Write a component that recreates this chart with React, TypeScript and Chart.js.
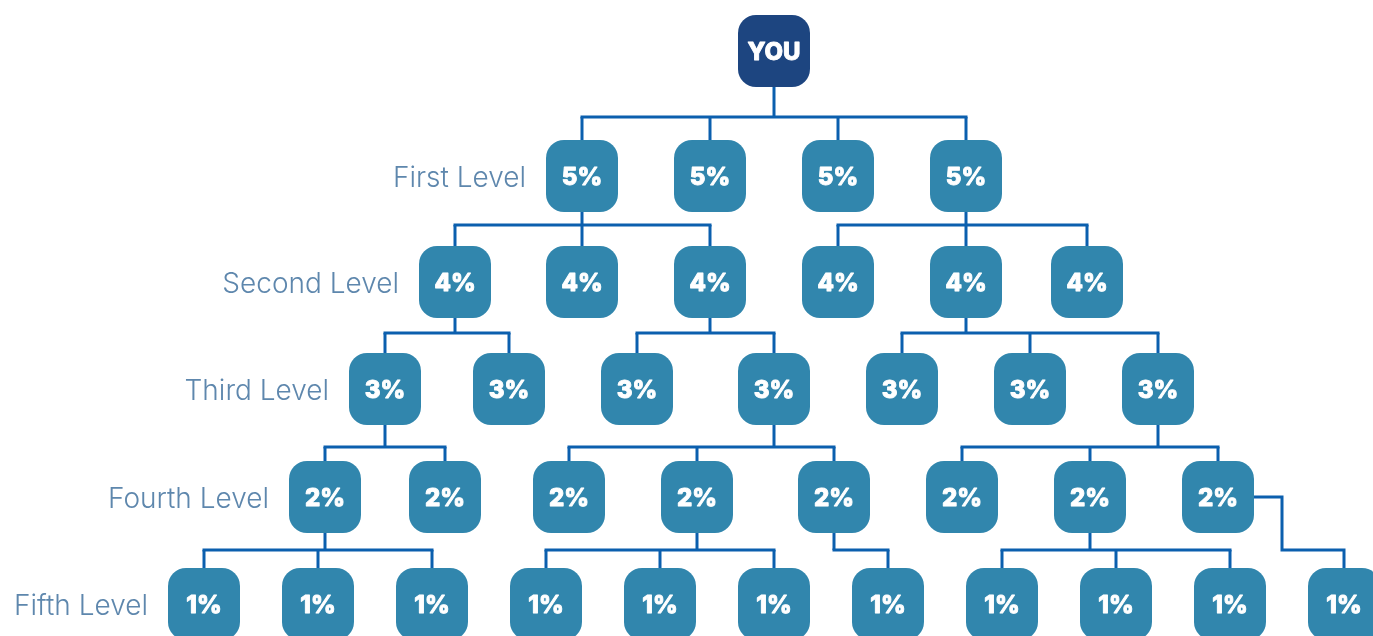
import React, { useEffect, useRef } from "react";
import { Chart, registerables } from "chart.js";

Chart.register(...registerables);

// ---- data ----
const rootLabel = "YOU";
const levelNames = ["First Level", "Second Level", "Third Level", "Fourth Level", "Fifth Level"];
const levelRates = ["5%", "4%", "3%", "2%", "1%"];

// tree layout (x in scale units, one array per level, root first)
const rootX = [774];
const level1X = [582, 710, 838, 966];
const level2X = [455, 582, 710, 838, 966, 1087];
const level3X = [385, 509, 637, 774, 902, 1030, 1158];
const level4X = [325, 445, 569, 697, 834, 962, 1090, 1218];
const level5X = [204, 318, 432, 546, 660, 774, 888, 1002, 1116, 1230, 1344];

// row of each level and of the connector bus below it (y in scale units)
const levelRows = [51, 176, 282, 389, 497, 604];
const busRows = [117, 225, 333, 447, 550];

// parent index (in previous level) for each node
const level1Parents = [0, 0, 0, 0];
const level2Parents = [0, 0, 0, 3, 3, 3];
const level3Parents = [0, 0, 2, 2, 4, 4, 4];
const level4Parents = [0, 0, 3, 3, 3, 6, 6, 6];
const level5Parents = [0, 0, 0, 3, 3, 3, 4, 6, 6, 6, 7];

// links that leave the parent from its right side: [level, index]
const sideLinks = [[5, 10]];

const levelXs = [rootX, level1X, level2X, level3X, level4X, level5X];
const levelParents = [[], level1Parents, level2Parents, level3Parents, level4Parents, level5Parents];

// ---- styles ----
const BOX = 72;
const RADIUS = 18;
const ROOT_COLOR = "#1d4580";
const NODE_COLOR = "#3186ad";
const LINE_COLOR = "#0b5fae";
const LABEL_COLOR = "#5e87ad";
const FONT = "Inter, 'Open Sans', sans-serif";

type Node = { x: number; y: number; level: number; idx: number; text: string };

const nodes: Node[] = [];
levelXs.forEach((xs, level) => {
  xs.forEach((x, idx) => {
    nodes.push({ x, y: levelRows[level], level, idx, text: level === 0 ? rootLabel : levelRates[level - 1] });
  });
});

export default function App() {
  const ref = useRef<HTMLCanvasElement | null>(null);

  useEffect(() => {
    if (!ref.current) return;
    const flatIndex = (level: number, idx: number) => nodes.findIndex((n) => n.level === level && n.idx === idx);

    const treePlugin = {
      id: "tree",
      beforeDatasetsDraw(chart: any) {
        const meta = chart.getDatasetMeta(0);
        const yScale = chart.scales.y;
        const ctx = chart.ctx as CanvasRenderingContext2D;
        const half = BOX / 2;
        ctx.save();
        ctx.strokeStyle = LINE_COLOR;
        ctx.lineWidth = 3;
        ctx.lineCap = "butt";
        ctx.lineJoin = "miter";
        for (let level = 1; level < levelXs.length; level++) {
          const parents = levelParents[level];
          const busY = yScale.getPixelForValue(busRows[level - 1]);
          const groups = new Map<number, number[]>();
          parents.forEach((p, i) => {
            const side = sideLinks.some(([l, k]) => l === level && k === i);
            const pEl = meta.data[flatIndex(level - 1, p)];
            const cEl = meta.data[flatIndex(level, i)];
            if (side) {
              const turnX = pEl.x + half + 28;
              ctx.beginPath();
              ctx.moveTo(pEl.x + half, pEl.y);
              ctx.lineTo(turnX, pEl.y);
              ctx.lineTo(turnX, busY);
              ctx.lineTo(cEl.x, busY);
              ctx.lineTo(cEl.x, cEl.y - half);
              ctx.stroke();
              return;
            }
            if (!groups.has(p)) groups.set(p, []);
            groups.get(p)!.push(i);
          });
          groups.forEach((kids, p) => {
            const pEl = meta.data[flatIndex(level - 1, p)];
            const kEls = kids.map((k) => meta.data[flatIndex(level, k)]);
            const xs = [pEl.x, ...kEls.map((e: any) => e.x)];
            ctx.beginPath();
            ctx.moveTo(pEl.x, pEl.y + half);
            ctx.lineTo(pEl.x, busY);
            ctx.stroke();
            ctx.beginPath();
            ctx.moveTo(Math.min(...xs) - 1.5, busY);
            ctx.lineTo(Math.max(...xs) + 1.5, busY);
            ctx.stroke();
            kEls.forEach((e: any) => {
              ctx.beginPath();
              ctx.moveTo(e.x, busY);
              ctx.lineTo(e.x, e.y - half);
              ctx.stroke();
            });
          });
        }
        ctx.restore();
      },
      afterDatasetsDraw(chart: any) {
        const meta = chart.getDatasetMeta(0);
        const ctx = chart.ctx as CanvasRenderingContext2D;
        const half = BOX / 2;
        ctx.save();
        meta.data.forEach((el: any, i: number) => {
          const n = nodes[i];
          ctx.fillStyle = n.level === 0 ? ROOT_COLOR : NODE_COLOR;
          ctx.beginPath();
          (ctx as any).roundRect(el.x - half, el.y - half, BOX, BOX, RADIUS);
          ctx.fill();
          ctx.fillStyle = "#ffffff";
          ctx.strokeStyle = "#ffffff";
          ctx.lineWidth = 0.9;
          ctx.lineJoin = "round";
          ctx.font = `800 24px ${FONT}`;
          ctx.textAlign = "center";
          ctx.textBaseline = "alphabetic";
          const cap = ctx.measureText("H").actualBoundingBoxAscent;
          ctx.fillText(n.text, el.x, el.y + cap / 2);
          ctx.strokeText(n.text, el.x, el.y + cap / 2);
        });
        // level labels
        ctx.font = `300 28px ${FONT}`;
        ctx.fillStyle = LABEL_COLOR;
        ctx.textAlign = "right";
        ctx.textBaseline = "alphabetic";
        const cap = ctx.measureText("H").actualBoundingBoxAscent;
        levelNames.forEach((name, k) => {
          const el = meta.data[flatIndex(k + 1, 0)];
          ctx.fillText(name, el.x - half - 20, el.y + cap / 2);
        });
        ctx.restore();
      },
    };

    const chart = new Chart(ref.current, {
      type: "scatter",
      data: {
        datasets: [
          {
            data: nodes.map((n) => ({ x: n.x, y: n.y })),
            pointRadius: 0,
            pointHoverRadius: 0,
          },
        ],
      },
      options: {
        responsive: false,
        animation: false,
        devicePixelRatio: 1,
        layout: { padding: 0 },
        events: [],
        plugins: { legend: { display: false }, tooltip: { enabled: false } },
        scales: {
          x: { type: "linear", min: 0, max: 1373, display: false },
          y: { type: "linear", min: 0, max: 636, reverse: true, display: false },
        },
      },
      plugins: [treePlugin],
    });
    return () => chart.destroy();
  }, []);

  return (
    <div style={{ position: "fixed", left: 0, top: 0, width: 1373, height: 636, background: "#ffffff" }}>
      <canvas ref={ref} width={1373} height={636} style={{ display: "block" }} />
    </div>
  );
}
